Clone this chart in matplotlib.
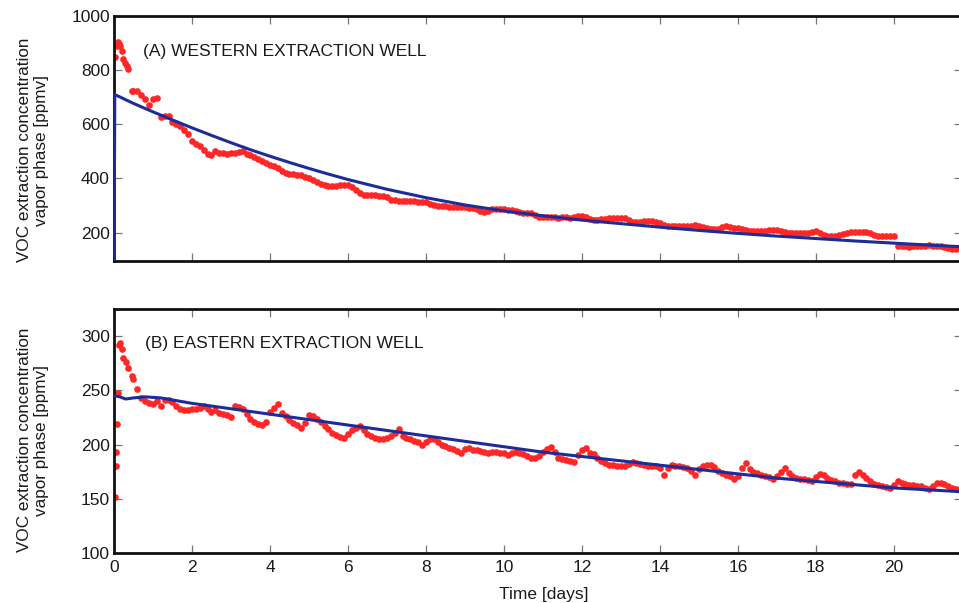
import numpy as np
import matplotlib
matplotlib.use("Agg")
import matplotlib.pyplot as plt

plt.rcParams['font.family'] = ['Liberation Sans', 'DejaVu Sans']

# ---------------- data ----------------
# (A) Western well: early irregular samples
west_t_early = [0.03, 0.07, 0.10, 0.13, 0.16, 0.20, 0.24, 0.28, 0.33, 0.37, 0.45]
west_v_early = [847, 890, 903, 895, 888, 871, 841, 828, 815, 804, 723]
# regular samples every 0.1 day starting at day 0.5
west_start, west_step = 0.5, 0.1
west_v = [
    723, 722, 708, 692, 672, 693, 698, 627, 630, 631,
    610, 600, 592, 580, 563, 538, 528, 518, 505, 490,
    485, 500, 495, 493, 492, 493, 493, 497, 501, 492,
    485, 478, 470, 463, 456, 450, 447, 440, 428, 420,
    415, 415, 414, 412, 407, 402, 393, 386, 378, 375,
    373, 372, 373, 374, 374, 376, 368, 356, 348, 340,
    338, 337, 337, 336, 335, 330, 322, 320, 317, 316,
    316, 315, 315, 314, 313, 312, 305, 302, 300, 299,
    298, 296, 295, 295, 294, 293, 292, 290, 286, 280,
    276, 278, 286, 288, 287, 288, 285, 283, 281, 276,
    274, 273, 272, 264, 256, 257, 256, 257, 256, 255,
    256, 256, 255, 258, 262, 262, 256, 249, 248, 248,
    249, 250, 253, 255, 255, 254, 252, 247, 240, 238,
    239, 241, 243, 242, 240, 236, 229, 224, 223, 223,
    223, 224, 224, 226, 228, 226, 221, 216, 214, 214,
    215, 219, 223, 221, 218, 216, 215, 210, 206, 205,
    205, 206, 207, 210, 211, 210, 207, 202, 200, 199,
    199, 198, 199, 200, 203, 205, 198, 192, 189, 189,
    188, 190, 194, 199, 201, 201, 201, 201, 201, 198,
    190, 189, 189, 189, 189, 188, 150, 149, 149, 148,
    149, 149, 150, 152, 153, 152, 151, 149, 145, 142,
    141, 140, 140,
]
west_fit_t = [0.0, 0.02, 0.5, 1, 1.5, 2, 2.5, 3, 3.5, 4, 4.5, 5, 5.5, 6, 7, 8, 9, 10,
              11, 12, 13, 14, 15, 16, 17, 18, 19, 20, 21, 22]
west_fit_v = [0, 710, 677, 646, 616, 587, 559, 532, 506, 482, 459, 437, 416, 396, 360,
              329, 302, 280, 262, 246, 233, 220, 208, 197, 187, 178, 169, 161, 153, 146]

# (B) Eastern well
east_t_early = [0.02, 0.04, 0.06, 0.08, 0.10, 0.13, 0.16, 0.20, 0.24, 0.30, 0.37, 0.45]
east_v_early = [152, 180, 193, 219, 248, 292, 294, 288, 280, 276, 271, 263]
east_start, east_step = 0.5, 0.1
east_v = [
    260, 251, 243, 240, 238, 237, 240, 236, 241, 241,
    239, 236, 233, 232, 232, 233, 233, 234, 236, 233,
    230, 232, 229, 228, 227, 225, 236, 235, 233, 228,
    224, 221, 219, 218, 221, 230, 234, 237, 229, 226,
    223, 220, 218, 215, 220, 227, 226, 224, 221, 217,
    214, 211, 209, 207, 206, 210, 213, 215, 217, 213,
    210, 208, 206, 205, 205, 206, 208, 211, 214, 208,
    206, 205, 203, 202, 200, 202, 205, 205, 202, 200,
    199, 197, 196, 194, 192, 196, 197, 195, 195, 194,
    193, 192, 193, 193, 192, 192, 190, 192, 193, 192,
    191, 189, 188, 188, 189, 193, 196, 198, 193, 188,
    187, 186, 185, 184, 190, 195, 197, 192, 191, 188,
    185, 183, 181, 181, 180, 180, 180, 182, 184, 183,
    182, 181, 180, 180, 180, 178, 172, 178, 181, 180,
    180, 179, 178, 176, 172, 177, 180, 181, 181, 179,
    176, 174, 172, 171, 168, 171, 178, 183, 177, 175,
    174, 172, 171, 170, 168, 171, 175, 178, 174, 171,
    169, 168, 168, 167, 166, 170, 173, 172, 169, 167,
    166, 165, 165, 164, 164, 172, 175, 172, 169, 166,
    164, 163, 162, 161, 160, 163, 166, 165, 164, 163,
    163, 162, 162, 160, 159, 162, 165, 165, 164, 162,
    160, 159, 158,
]
east_fit_t = [0, 0.15, 0.3, 0.5, 0.8, 1.2, 2, 3, 4, 5, 6, 7, 8, 9, 10, 11, 12, 13, 14,
              15, 16, 17, 18, 19, 20, 21, 22]
east_fit_v = [245, 244, 242, 243, 244, 243, 238, 233, 228, 223, 218, 213, 208, 203, 198,
              193, 189, 185, 181, 177, 173, 169, 166, 163, 160, 158, 156]

x_ticks = [0, 2, 4, 6, 8, 10, 12, 14, 16, 18, 20]
west_yticks = [200, 400, 600, 800, 1000]
east_yticks = [100, 150, 200, 250, 300]
ylabel_text = "VOC extraction concentration\nvapor phase [ppmv]"

# ---------------- figure ----------------
W, H = 959, 603
fig = plt.figure(figsize=(W / 100, H / 100), dpi=100)

def px_axes(left, top, right, bottom):
    return fig.add_axes([left / W, 1 - bottom / H, (right - left) / W, (bottom - top) / H])

ax1 = px_axes(114, 16, 962, 261)
ax2 = px_axes(114, 309, 962, 553)

red = '#ff2626'
blue = '#1c2c99'
txt = '#1a1a1a'

def series(t_early, v_early, start, step, v):
    t = list(t_early) + list(start + step * np.arange(len(v)))
    return np.array(t), np.array(list(v_early) + list(v))

t1, v1 = series(west_t_early, west_v_early, west_start, west_step, west_v)
t2, v2 = series(east_t_early, east_v_early, east_start, east_step, east_v)

ax1.plot(t1, v1, 'o', ms=4.8, color=red, mec='none', zorder=2)
ax1.plot(west_fit_t, west_fit_v, '-', color=blue, lw=2.2, zorder=3)
ax2.plot(t2, v2, 'o', ms=4.8, color=red, mec='none', zorder=2)
ax2.plot(east_fit_t, east_fit_v, '-', color=blue, lw=2.2, zorder=3)

ax1.set_ylim(95, 1000)
ax2.set_ylim(100, 325)
for ax, yt in ((ax1, west_yticks), (ax2, east_yticks)):
    ax.set_xlim(0, 21.75)
    ax.set_xticks(x_ticks)
    ax.set_yticks(yt)
    for s in ax.spines.values():
        s.set_linewidth(2.0)
        s.set_color('#111111')
    ax.tick_params(direction='in', length=6, width=0.9, color='#777777',
                   top=True, right=True, labelsize=12.5, labelcolor=txt, pad=3)

ax1.tick_params(labelbottom=False)
ax2.tick_params(axis='x', pad=5)

ax1.text(0.034, 0.854, "(A) WESTERN EXTRACTION WELL", transform=ax1.transAxes,
         fontsize=12.5, color=txt, ha='left', va='center')
ax2.text(0.0366, 0.859, "(B) EASTERN EXTRACTION WELL", transform=ax2.transAxes,
         fontsize=12.5, color=txt, ha='left', va='center')

fig.text(33 / W, 1 - 150 / H, ylabel_text, rotation=90, ha='center', va='center',
         multialignment='center', fontsize=12.3, color=txt, linespacing=1.15)
fig.text(33 / W, 1 - 440 / H, ylabel_text, rotation=90, ha='center', va='center',
         multialignment='center', fontsize=12.3, color=txt, linespacing=1.15)
fig.text(544 / W, 1 - 594 / H, "Time [days]", ha='center', va='center',
         fontsize=12.5, color=txt)

fig.savefig("out.png", dpi=100)
